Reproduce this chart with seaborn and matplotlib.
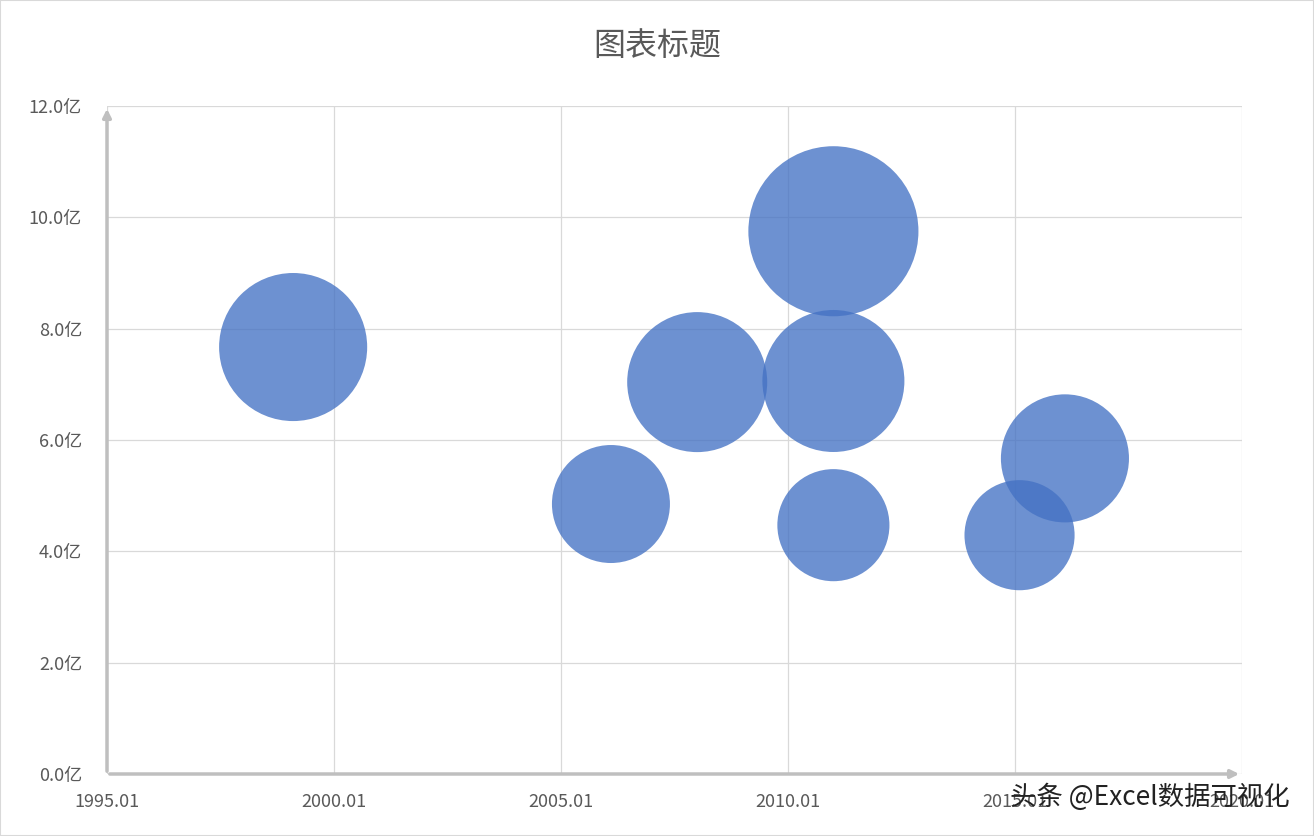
import matplotlib
matplotlib.use("Agg")
import matplotlib.pyplot as plt
import seaborn as sns
import pandas as pd

years = [1999.1, 2006.1, 2008.0, 2011.0, 2011.0, 2011.0, 2016.1, 2015.1]
values = [7.67, 4.85, 7.04, 9.75, 7.06, 4.47, 5.67, 4.29]
sizes = [5.48, 3.48, 4.90, 7.23, 5.04, 3.14, 4.10, 3.03]
xticks = [1995, 2000, 2005, 2010, 2015, 2020]
xlabels = ["1995.01", "2000.01", "2005.01", "2010.01", "2015.01", "2020.01"]
yticks = [0, 2, 4, 6, 8, 10, 12]

df = pd.DataFrame({"year": years, "value": values, "size": sizes})
df["s"] = df["size"] * 2074

sns.set_theme(style="white")
plt.rcParams['font.family'] = ['Noto Sans CJK SC', 'DejaVu Sans']

fig = plt.figure(figsize=(13.14, 8.36), dpi=100)
ax = fig.add_axes([107/1314, 1-774/836, (1242-107)/1314, (774-106)/836])
fig.patches.append(plt.Rectangle((0, 0), 1, 1, transform=fig.transFigure, fill=False,
                                 edgecolor="#d9d9d9", lw=1.5))
sns.scatterplot(data=df, x="year", y="value", s=df["s"].values, color="#4472C4",
                alpha=0.78, edgecolor="none", ax=ax, legend=False, zorder=3)
ax.set_xlim(1995, 2020)
ax.set_ylim(0, 12)
ax.set_xticks(xticks)
ax.set_xticklabels(xlabels)
ax.set_yticks(yticks)
ax.set_yticklabels([f"{v:.1f}亿" for v in yticks])
ax.grid(True, color="#d9d9d9", lw=0.9)
ax.set_axisbelow(True)
for sp in ["top", "right", "left", "bottom"]:
    ax.spines[sp].set_visible(False)
ax.annotate("", xy=(0, 1.0), xytext=(0, 0), xycoords="axes fraction",
            arrowprops=dict(arrowstyle="-|>", color="#bfbfbf", lw=2.5), zorder=4)
ax.annotate("", xy=(1.0, 0), xytext=(0, 0), xycoords="axes fraction",
            arrowprops=dict(arrowstyle="-|>", color="#bfbfbf", lw=2.5), zorder=4)
ax.tick_params(axis="y", colors="#595959", labelsize=13, length=0, pad=18)
ax.tick_params(axis="x", colors="#595959", labelsize=13, length=0, pad=14)
ax.set_xlabel("")
ax.set_ylabel("")
fig.text(0.5, 1-46/836, "图表标题", ha="center", va="center", fontsize=23, color="#595959")
fig.text(1290/1314, 1-797/836, "头条 @Excel数据可视化", ha="right", va="center",
         fontsize=19, color="#222222", zorder=10)
fig.savefig("out.png", dpi=100)
